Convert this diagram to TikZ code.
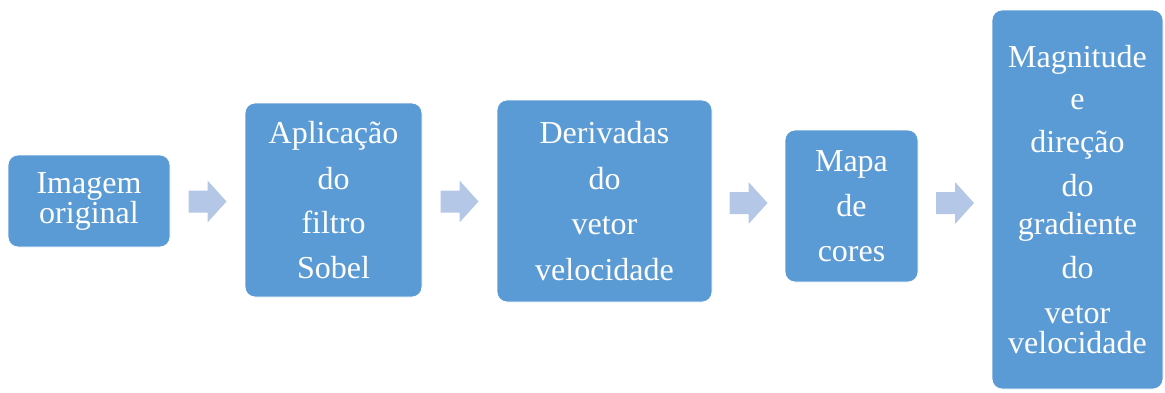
\documentclass[tikz,border=0pt]{standalone}
\usepackage{fontspec}
\setmainfont{Liberation Serif}
\usetikzlibrary{calc}
\definecolor{boxblue}{HTML}{5B9BD5}
\definecolor{arrowblue}{HTML}{B4C7E7}
\tikzset{
  stepbox/.style={rectangle, rounded corners=10pt, fill=boxblue, draw=white, line width=0.8pt,
    text=white, align=center, inner sep=0pt,
    font=\fontsize{32}{30}\selectfont},
  blockarrow/.style={fill=arrowblue, draw=none}
}
\newcommand{\blkarrow}[1]{%
  \fill[blockarrow] ($(#1)+(-19,-11)$) -- ($(#1)+(0,-11)$) -- ($(#1)+(0,-21)$) -- ($(#1)+(19,0)$)
    -- ($(#1)+(0,21)$) -- ($(#1)+(0,11)$) -- ($(#1)+(-19,11)$) -- cycle;}
\begin{document}
\begin{tikzpicture}[x=1pt,y=-1pt]
\useasboundingbox (0,0) rectangle (1165,392);
\node[stepbox, minimum width=162pt, minimum height=92pt] (b1) at (89,201)
  {Imagem\\original};
\node[stepbox, minimum width=177pt, minimum height=194pt] (b2) at (333.5,200)
  {Aplicação\\[16pt]do\\[14pt]filtro\\[15pt]Sobel};
\node[stepbox, minimum width=215pt, minimum height=202pt] (b3) at (604.5,201)
  {Derivadas\\[16pt]do\\[15pt]vetor\\[16pt]velocidade};
\node[stepbox, minimum width=133pt, minimum height=152pt] (b4) at (851.5,206)
  {Mapa\\[15pt]de\\[15pt]cores};
\node[stepbox, minimum width=171pt, minimum height=379pt] (b5) at (1077.5,199.5)
  {Magnitude\\[12pt]e\\[13pt]direção\\[14pt]do\\[8pt]gradiente\\[14pt]do\\[15pt]vetor\\velocidade};
\coordinate (a1) at ($(b1.east)!0.5!(b2.west)$);
\coordinate (a2) at ($(b2.east)!0.5!(b3.west)$);
\coordinate (a3) at ($(b3.east)!0.5!(b4.west)$);
\coordinate (a4) at ($(b4.east)!0.5!(b5.west)$);
\coordinate (c1) at (a1 |- 0,201.5);
\coordinate (c2) at (a2 |- 0,201.5);
\coordinate (c3) at (a3 |- 0,203);
\coordinate (c4) at (a4 |- 0,203);
\blkarrow{c1}
\blkarrow{c2}
\blkarrow{c3}
\blkarrow{c4}
\end{tikzpicture}
\end{document}
